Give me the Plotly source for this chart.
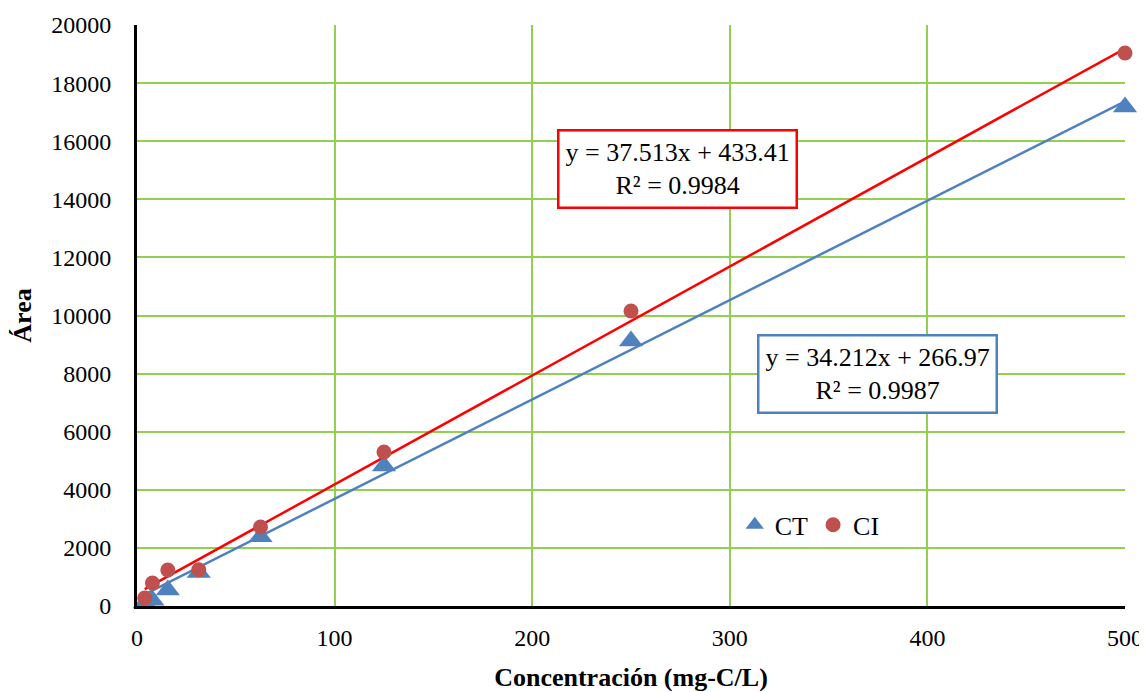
import plotly.graph_objects as go

conc = [3.9, 7.8, 15.6, 31.25, 62.5, 125, 250, 500]
area_ct = [100, 200, 550, 1150, 2380, 4820, 9120, 17180]
area_ci = [275, 790, 1240, 1250, 2720, 5300, 10155, 19036]

fit_ct = {"slope": 34.212, "intercept": 266.97, "r2": 0.9987}
fit_ci = {"slope": 37.513, "intercept": 433.41, "r2": 0.9984}

x_ticks = [0, 100, 200, 300, 400, 500]
y_ticks = list(range(0, 20001, 2000))

FONT = "Liberation Serif, Times New Roman, serif"
BLUE = "#4F81BD"
RED_M = "#C0504D"
RED_L = "#FF0000"
GRID = "#92D050"

fig = go.Figure()

xl = [min(conc), max(conc)]
fig.add_trace(go.Scatter(x=xl, y=[fit_ci["slope"] * v + fit_ci["intercept"] for v in xl],
                         mode="lines", line=dict(color=RED_L, width=2.5), showlegend=False, hoverinfo="skip"))
fig.add_trace(go.Scatter(x=xl, y=[fit_ct["slope"] * v + fit_ct["intercept"] for v in xl],
                         mode="lines", line=dict(color=BLUE, width=2.5), showlegend=False, hoverinfo="skip"))

fig.add_trace(go.Scatter(x=conc, y=area_ct, mode="markers", name="CT",
                         marker=dict(symbol="triangle-up", size=21, color=BLUE), cliponaxis=False))
fig.add_trace(go.Scatter(x=conc, y=area_ci, mode="markers", name="CI",
                         marker=dict(symbol="circle", size=15, color=RED_M), cliponaxis=False))

fig.add_annotation(x=273.5, y=15060, xref="x", yref="y", showarrow=False,
                   text=f"y = {fit_ci['slope']}x + {fit_ci['intercept']}<br>R² = {fit_ci['r2']}",
                   font=dict(family=FONT, size=26, color="black"),
                   bordercolor=RED_L, borderwidth=2.5, borderpad=6, bgcolor="white", align="center")
fig.add_annotation(x=374.7, y=7986, xref="x", yref="y", showarrow=False,
                   text=f"y = {fit_ct['slope']}x + {fit_ct['intercept']}<br>R² = {fit_ct['r2']}",
                   font=dict(family=FONT, size=26, color="black"),
                   bordercolor=BLUE, borderwidth=2.5, borderpad=6, bgcolor="white", align="center")

fig.update_layout(
    width=1139, height=684,
    margin=dict(l=129, r=22, t=17, b=86),
    paper_bgcolor="white", plot_bgcolor="white",
    font=dict(family=FONT, size=24, color="black"),
    legend=dict(orientation="h", x=0.605, y=0.18, xanchor="left", yanchor="top",
                bgcolor="rgba(0,0,0,0)", font=dict(family=FONT, size=26),
                itemwidth=30, tracegroupgap=0),
    xaxis=dict(range=[0, 500], tickvals=x_ticks, ticktext=[str(v) for v in x_ticks],
               showgrid=True, gridcolor=GRID, gridwidth=2,
               showline=True, linecolor="black", linewidth=3, zeroline=False, automargin=False,
               ticks="", ticklabelstandoff=8, tickfont=dict(family=FONT, size=24),
               title=dict(text="<b>Concentración (mg-C/L)</b>", font=dict(family=FONT, size=26), standoff=20)),
    yaxis=dict(range=[0, 20000], tickvals=y_ticks, ticktext=[str(v) for v in y_ticks],
               showgrid=True, gridcolor=GRID, gridwidth=2,
               showline=True, linecolor="black", linewidth=3, zeroline=False, automargin=False,
               ticks="", ticklabelstandoff=18, tickfont=dict(family=FONT, size=24),
               title=dict(text="<b>Área</b>", font=dict(family=FONT, size=26), standoff=15)),
)

fig.write_html("out.html")
